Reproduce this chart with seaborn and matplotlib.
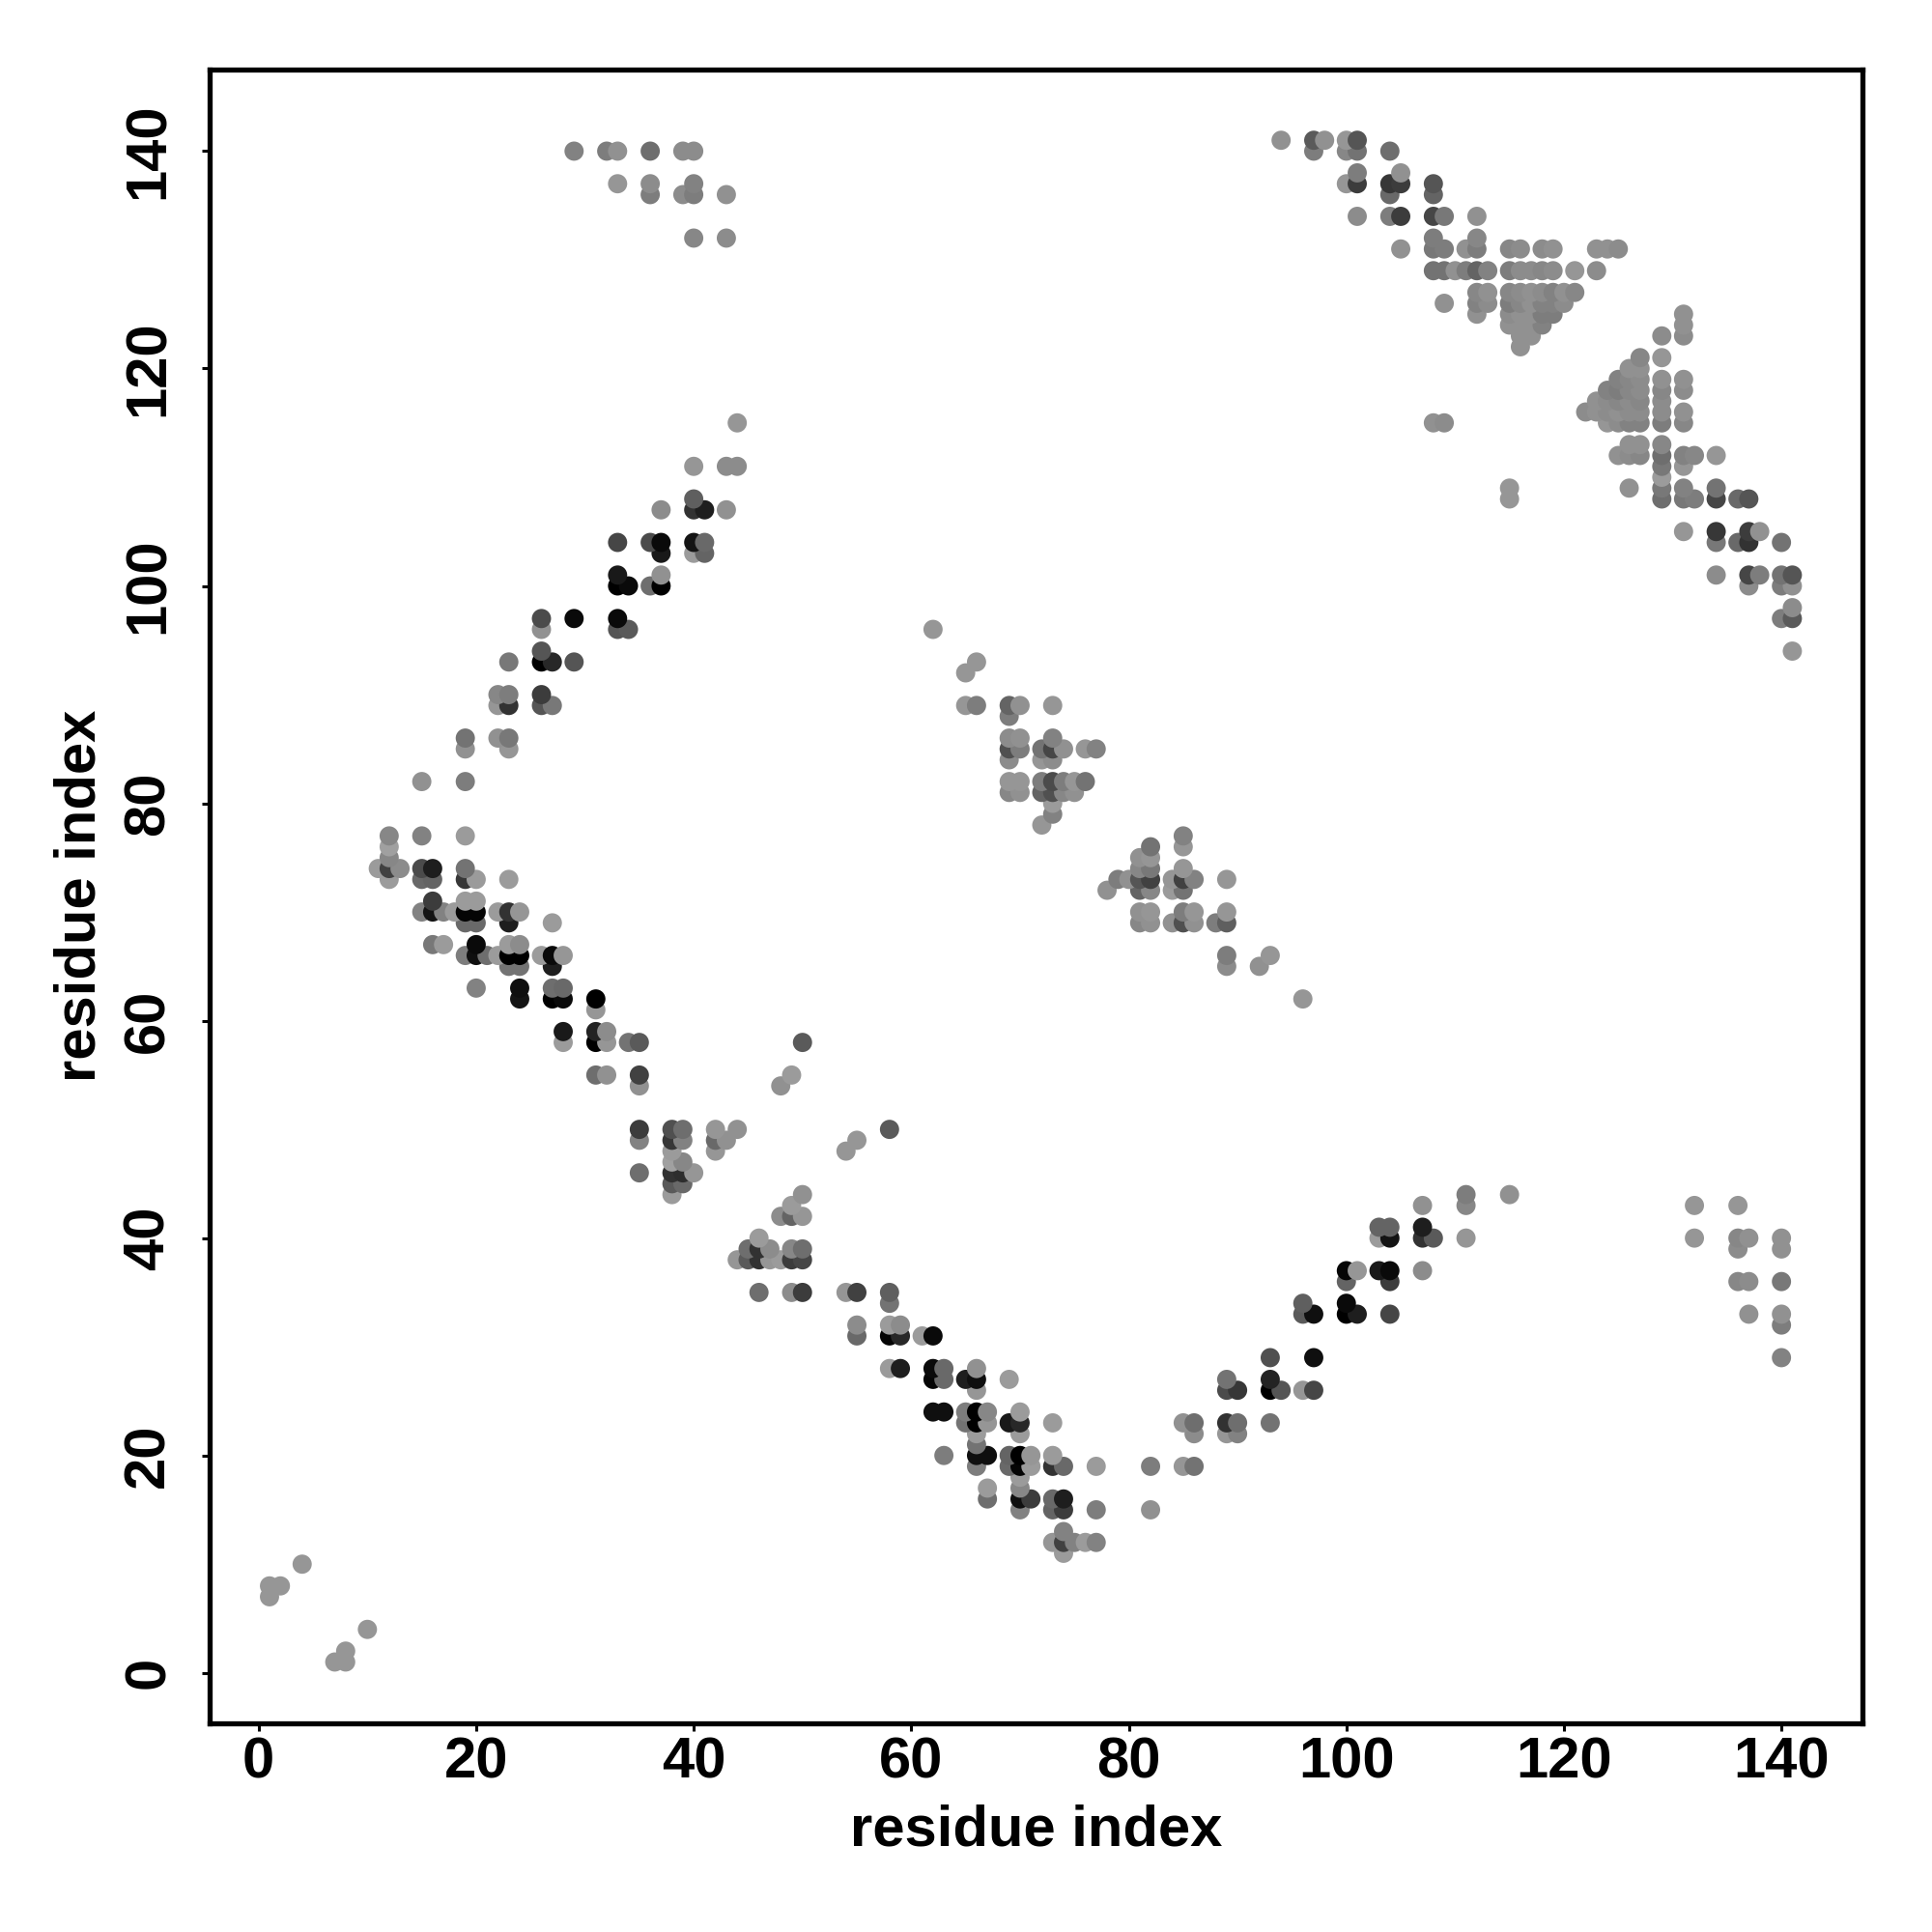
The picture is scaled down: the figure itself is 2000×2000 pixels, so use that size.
import matplotlib
matplotlib.use('Agg')
import matplotlib.pyplot as plt
import pandas as pd
import seaborn as sns

# ===============================
# DATA (contacts, one entry per row of the map)
# ===============================
rows_y = [1, 2, 4, 7, 8, 10, 11, 12, 13, 15, 16, 17, 18, 19, 20, 21, 22, 23, 24, 26, 27, 28, 29,
          31, 32, 33, 34, 35, 36, 37, 38, 39, 40, 41, 42, 43, 44, 45, 46, 47, 48, 49, 50,
          54, 55, 58, 59, 61, 62, 63, 65, 66, 67, 69, 70, 71, 72, 73, 74, 75, 76, 77, 78, 79, 80,
          81, 82, 84, 85, 86, 88, 89, 90, 92, 93, 94, 96, 97, 98, 100, 101, 103, 104, 105, 107,
          108, 109, 110, 111, 112, 113, 115, 116, 117, 118, 119, 120, 121, 122, 123, 124, 125,
          126, 127, 129, 131, 132, 134, 136, 137, 138, 140, 141]

rows_x = [
    [7, 8], [8], [10], [1], [1, 2], [4], [74], [73, 74, 75, 76, 77], [74],
    [70, 73, 74, 77, 82], [67, 70, 71, 73, 74], [67, 70], [70],
    [66, 69, 70, 71, 73, 74, 77, 82, 85, 86], [63, 66, 67, 69, 70, 71, 73], [66],
    [66, 70, 86, 89, 90], [65, 66, 67, 69, 70, 73, 85, 86, 89, 90, 93], [62, 63, 65, 66, 67, 70],
    [66, 89, 90, 93, 94, 96, 97], [62, 63, 65, 66, 69, 89, 93], [58, 59, 62, 63, 66], [93, 97, 140],
    [55, 58, 59, 61, 62], [55, 58, 59, 140], [96, 97, 100, 101, 104, 137, 140], [58, 96, 100],
    [46, 49, 50, 54, 55, 58], [100, 104, 136, 137, 140], [100, 101, 103, 104, 107],
    [44, 45, 46, 47, 48, 49, 50], [45, 46, 47, 49, 50, 136, 140],
    [46, 103, 104, 107, 108, 111, 132, 136, 137, 140], [103, 104, 107], [48, 49, 50],
    [49, 107, 111, 132, 136], [38, 50, 111, 115], [38, 39], [35, 38, 39, 40], [38, 39],
    [38, 42, 54], [35, 38, 39, 42, 43, 55], [35, 38, 39, 42, 44, 58],
    [35, 48], [31, 32, 35, 49], [28, 31, 32, 34, 35, 50], [28, 31, 32], [31],
    [24, 27, 28, 31, 96], [20, 24, 27, 28], [23, 24, 27, 89, 92],
    [19, 20, 21, 22, 23, 24, 26, 27, 28, 89, 93], [16, 17, 20, 23, 24],
    [19, 20, 23, 27, 81, 82, 84, 85, 86, 88, 89],
    [15, 16, 17, 18, 19, 20, 22, 23, 24, 81, 82, 85, 86, 89], [16, 19, 20],
    [78, 81, 82, 84, 85], [12, 15, 16, 19, 20, 23, 79, 80, 81, 82, 84, 85, 86, 89],
    [11, 12, 13, 15, 16, 19, 81, 82, 85], [12, 81, 82], [12, 82, 85], [12, 15, 19, 85],
    [72], [73], [73],
    [69, 70, 72, 73, 74, 75], [15, 19, 69, 70, 72, 73, 74, 75, 76], [69, 72, 73],
    [19, 23, 69, 70, 72, 73, 74, 76, 77], [19, 22, 23, 69, 70, 73], [69],
    [22, 23, 26, 27, 65, 66, 69, 70, 73], [22, 23, 26], [65], [23, 26, 27, 29, 66], [26, 141],
    [26, 33, 34, 62], [26, 29, 33, 140, 141], [141], [33, 34, 36, 37, 137, 140, 141],
    [33, 37, 134, 137, 138, 140, 141], [37, 40, 41], [33, 36, 37, 40, 41, 134, 136, 137, 140],
    [131, 134, 137, 138], [37, 40, 41, 43],
    [40, 115, 129, 131, 132, 134, 136, 137], [115, 126, 129, 131, 134], [129],
    [40, 43, 44, 129, 131], [125, 126, 127, 129, 131, 132, 134], [126, 127, 129],
    [44, 108, 109, 124, 125, 126, 127, 129, 131], [122, 123, 124, 125, 126, 127, 129, 131],
    [123, 124, 125, 126, 127, 129], [124, 125, 126, 127, 129, 131], [125, 126, 127, 129, 131],
    [126, 127], [127, 129], [116], [116, 117, 129, 131], [115, 116, 117, 118, 131],
    [112, 115, 116, 117, 118, 119, 131],
    [109, 112, 113, 115, 116, 117, 118, 119, 120], [112, 113, 115, 116, 117, 118, 119, 120, 121],
    [108, 109, 110, 111, 112, 113, 115, 116, 117, 118, 119, 121, 123],
    [105, 108, 109, 111, 112, 115, 116, 118, 119, 123, 124, 125], [40, 43, 108, 112],
    [101, 104, 105, 108, 109, 112], [36, 39, 40, 43, 104, 108],
    [33, 36, 40, 100, 101, 104, 105, 108], [101, 105],
    [29, 32, 33, 36, 39, 40, 97, 100, 101, 104], [94, 97, 98, 100, 101],
]

rows_gray = [
    [150, 150], [150], [150], [150], [150, 150], [150], [155], [150, 65, 130, 155, 130], [130],
    [130, 100, 60, 125, 145], [110, 15, 60, 105, 30], [155, 135], [155],
    [125, 105, 5, 155, 50, 105, 155, 125, 150, 115], [125, 15, 15, 100, 0, 150, 155], [115],
    [155, 155, 140, 150, 130], [115, 0, 150, 25, 40, 155, 145, 110, 50, 110, 115], [15, 15, 125, 0, 135, 155],
    [150, 75, 55, 0, 85, 150, 70], [5, 105, 30, 15, 155, 115, 35], [155, 30, 10, 105, 145], [80, 15, 130],
    [105, 5, 40, 155, 10], [140, 155, 140, 125], [90, 15, 0, 30, 70, 145, 145], [115, 95, 10],
    [110, 140, 60, 150, 65, 95], [100, 60, 135, 140, 120], [5, 150, 25, 10, 140],
    [150, 90, 50, 150, 155, 60, 70], [110, 50, 140, 135, 110, 140, 145],
    [155, 155, 20, 50, 90, 150, 150, 135, 145, 145], [100, 100, 30], [140, 100, 150],
    [155, 145, 135, 150, 150], [155, 145, 125, 145], [90, 105], [110, 50, 45, 150], [160, 135],
    [155, 150, 150], [130, 55, 130, 105, 145, 150], [60, 80, 110, 150, 145, 90],
    [145, 145], [110, 145, 65, 155], [155, 0, 150, 115, 90, 90], [25, 35, 140], [150],
    [20, 0, 10, 0, 150], [130, 15, 110, 105], [115, 115, 30, 140, 145],
    [125, 15, 110, 155, 0, 0, 155, 10, 150, 125, 150], [120, 155, 10, 155, 140],
    [105, 105, 30, 155, 135, 145, 145, 80, 145, 125, 95],
    [130, 20, 130, 155, 5, 5, 155, 50, 150, 145, 150, 125, 150, 150], [60, 155, 155],
    [145, 100, 135, 155, 115], [155, 105, 100, 55, 155, 155, 125, 145, 85, 65, 150, 65, 130, 150],
    [155, 65, 140, 75, 30, 115, 135, 120, 150], [135, 145, 150], [160, 115, 150], [135, 130, 155, 130],
    [150], [130], [155],
    [135, 145, 100, 80, 135, 145], [145, 125, 150, 150, 125, 75, 125, 150, 115], [140, 150, 140],
    [145, 150, 80, 125, 115, 70, 145, 150, 130], [115, 145, 120, 140, 145, 130], [125],
    [150, 50, 85, 120, 150, 125, 100, 145, 150], [135, 125, 60], [150], [120, 0, 40, 85, 150], [85, 150],
    [145, 85, 90, 150], [75, 10, 10, 125, 90], [140], [0, 10, 110, 0, 140, 125, 145],
    [25, 145, 140, 70, 125, 115, 85], [25, 155, 100], [70, 75, 10, 20, 105, 120, 105, 50, 115],
    [150, 55, 60, 145], [140, 50, 30, 145],
    [95, 150, 110, 120, 125, 70, 105, 85], [150, 145, 120, 130, 115], [155],
    [150, 140, 140, 120, 150], [145, 140, 135, 110, 130, 135, 150], [145, 145, 135],
    [150, 145, 140, 150, 140, 130, 130, 125, 135], [140, 145, 140, 145, 140, 140, 140, 145],
    [145, 140, 135, 140, 135, 140], [130, 125, 135, 140, 135, 140], [130, 135, 140, 145, 145],
    [145, 145], [135, 150], [145], [145, 145, 140, 140], [145, 145, 145, 130, 145],
    [145, 140, 145, 145, 125, 125, 145],
    [145, 130, 140, 125, 135, 145, 130, 130, 140], [135, 145, 135, 140, 145, 140, 130, 145, 135],
    [115, 115, 145, 125, 100, 130, 125, 140, 140, 135, 140, 150, 140],
    [145, 120, 125, 145, 125, 135, 140, 140, 145, 145, 145, 140], [135, 140, 125, 135],
    [140, 125, 60, 70, 120, 145], [125, 140, 125, 145, 105, 100],
    [150, 140, 130, 150, 60, 55, 60, 85], [125, 145],
    [130, 125, 145, 110, 140, 140, 125, 135, 115, 110], [145, 90, 145, 150, 85],
]

tick_values = [0, 20, 40, 60, 80, 100, 120, 140]

# ===============================
# BUILD TABLE
# ===============================
df = pd.DataFrame({'y': rows_y, 'x': rows_x, 'gray': rows_gray}).explode(['x', 'gray'])
df = df.astype({'x': int, 'gray': int})
# rows higher up and further right are painted last
df = df.sort_values(['y', 'x'])

# ===============================
# PLOT
# ===============================
sns.set_style('white')
plt.rcParams['font.family'] = ['Liberation Sans', 'DejaVu Sans']
plt.rcParams['font.weight'] = 'bold'
plt.rcParams['text.color'] = 'black'

fig = plt.figure(figsize=(20, 20), dpi=100)
ax = fig.add_axes([216.5 / 2000, 216.5 / 2000, 1712 / 2000, 1712 / 2000])

sns.scatterplot(
    data=df, x='x', y='y', hue='gray', palette='gray', hue_norm=(0, 255),
    s=205, linewidth=0, legend=False, ax=ax
)

ax.set_xlim(-4.55, 147.49)
ax.set_ylim(-4.6, 147.55)
ax.set_xticks(tick_values)
ax.set_yticks(tick_values)
ax.tick_params(axis='both', direction='out', length=6, width=2.2, color='black',
               labelcolor='black', left=True, bottom=True, labelsize=43)
ax.tick_params(axis='x', pad=4)
ax.tick_params(axis='y', pad=19)
for label in ax.get_yticklabels():
    label.set_rotation(90)
    label.set_va('center')

for spine in ax.spines.values():
    spine.set_visible(True)
    spine.set_color('black')
    spine.set_linewidth(3.8)

ax.set_xlabel('residue index', fontsize=43, fontweight='bold', color='black', labelpad=11)
ax.set_ylabel('residue index', fontsize=43, fontweight='bold', color='black', labelpad=12)

fig.savefig('out.png', dpi=100, facecolor='white')
